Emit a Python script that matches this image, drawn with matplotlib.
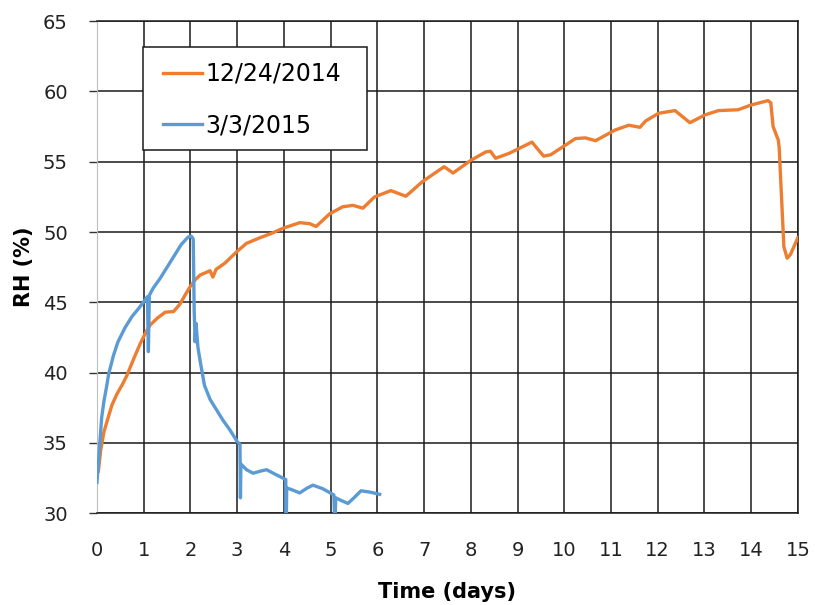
import numpy as np
import matplotlib
matplotlib.use("Agg")
import matplotlib.pyplot as plt
from matplotlib.patches import Rectangle

# 12/24/2014 run
t_dec = [0.03, 0.08, 0.15, 0.22, 0.32, 0.43, 0.55, 0.64, 0.8, 0.93, 1.05, 1.14, 1.3, 1.46,
         1.64, 1.78, 1.9, 1.99, 2.1, 2.21, 2.42, 2.48, 2.55, 2.74, 2.99, 3.2, 3.49, 3.73,
         3.98, 4.34, 4.55, 4.69, 4.98, 5.26, 5.48, 5.69, 5.94, 6.29, 6.61, 6.97, 7.43, 7.62,
         8.0, 8.32, 8.42, 8.53, 8.82, 9.31, 9.39, 9.56, 9.71, 10.24, 10.45, 10.67, 11.09,
         11.38, 11.62, 11.74, 12.02, 12.37, 12.69, 13.01, 13.3, 13.72, 14.0, 14.36, 14.42,
         14.47, 14.58, 14.6, 14.7, 14.77, 14.84, 15.0]
rh_dec = [33.0, 34.5, 35.8, 36.6, 37.7, 38.5, 39.2, 39.8, 41.1, 42.1, 42.9, 43.4, 43.9, 44.3,
          44.35, 44.9, 45.6, 46.1, 46.6, 46.95, 47.25, 46.8, 47.35, 47.8, 48.6, 49.2, 49.6, 49.9,
          50.27, 50.67, 50.6, 50.4, 51.3, 51.8, 51.9, 51.7, 52.5, 52.95, 52.55, 53.6, 54.65, 54.2,
          55.1, 55.7, 55.75, 55.25, 55.6, 56.4, 56.07, 55.4, 55.5, 56.65, 56.7, 56.5, 57.26,
          57.6, 57.45, 57.9, 58.45, 58.64, 57.78, 58.33, 58.64, 58.7, 59.04, 59.35, 59.2,
          57.5, 56.55, 56.0, 48.96, 48.14, 48.4, 49.6]

# 3/3/2015 run
t_mar = [0.0, 0.05, 0.1, 0.15, 0.2, 0.25, 0.35, 0.45, 0.6, 0.75, 0.9, 1.0, 1.08, 1.1, 1.12,
         1.2, 1.35, 1.5, 1.65, 1.8, 1.95, 2.02, 2.06, 2.08, 2.1, 2.12, 2.16, 2.22, 2.3, 2.42,
         2.55, 2.7, 2.85, 3.0, 3.06, 3.07, 3.08, 3.2, 3.34, 3.5, 3.63, 3.8, 3.98, 4.04, 4.05,
         4.06, 4.15, 4.34, 4.5, 4.62, 4.83, 5.07, 5.09, 5.11, 5.2, 5.37, 5.5, 5.65, 5.85, 6.05]
rh_mar = [32.2, 34.5, 36.8, 38.0, 38.9, 39.9, 41.2, 42.2, 43.2, 44.0, 44.6, 45.05, 45.4, 41.5, 45.5,
          46.0, 46.7, 47.5, 48.3, 49.1, 49.65, 49.7, 49.5, 44.5, 42.2, 43.5, 41.8, 40.6, 39.1, 38.1,
          37.4, 36.6, 35.9, 35.1, 34.9, 31.1, 33.5, 33.1, 32.85, 33.0, 33.1, 32.8, 32.5, 32.4, 29.0,
          31.8, 31.7, 31.45, 31.8, 32.0, 31.75, 31.3, 29.0, 31.1, 30.95, 30.7, 31.1, 31.6, 31.5, 31.35]

plt.rcParams['font.family'] = ['DejaVu Sans']

fig = plt.figure(figsize=(8.15, 6.05), dpi=100)
ax = fig.add_axes([0.119, 0.1516, 0.860, 0.8134])

ax.plot(t_dec, rh_dec, color='#ED7D31', lw=2.4, label='12/24/2014', zorder=3)
ax.plot(t_mar, rh_mar, color='#5B9BD5', lw=2.4, label='3/3/2015', zorder=3)

ax.set_xlim(0, 15)
ax.set_ylim(30, 65)
ax.set_xticks(np.arange(0, 16, 1))
ax.set_yticks(np.arange(30, 66, 5))
ax.grid(True, color='#1a1a1a', lw=1.1)
ax.set_axisbelow(True)

for side in ['top', 'right', 'bottom']:
    ax.spines[side].set_color('#1a1a1a')
    ax.spines[side].set_linewidth(1.1)
ax.spines['left'].set_color('#bfbfbf')

ax.tick_params(axis='x', length=0, pad=20, labelsize=14, labelcolor='#222222')
ax.tick_params(axis='y', length=6, width=1, color='#333333', direction='out', pad=15,
               labelsize=14, labelcolor='#222222')

ax.set_xlabel('Time (days)', fontsize=15, fontweight='bold', labelpad=16)
ax.set_ylabel('RH (%)', fontsize=15, fontweight='bold', labelpad=6)

# legend box drawn separately so the padding can match the original
box = Rectangle((0.066, 0.738), 0.319, 0.210, transform=ax.transAxes, facecolor='white',
                edgecolor='#1a1a1a', lw=1.1, zorder=4)
ax.add_patch(box)
leg = ax.legend(loc='upper left', bbox_to_anchor=(0.074, 0.946), fontsize=17,
                handlelength=1.65, handletextpad=0.15, borderpad=0.6, labelspacing=1.15,
                frameon=False, borderaxespad=0)
leg.set_zorder(5)

fig.savefig('out.png', dpi=100)
